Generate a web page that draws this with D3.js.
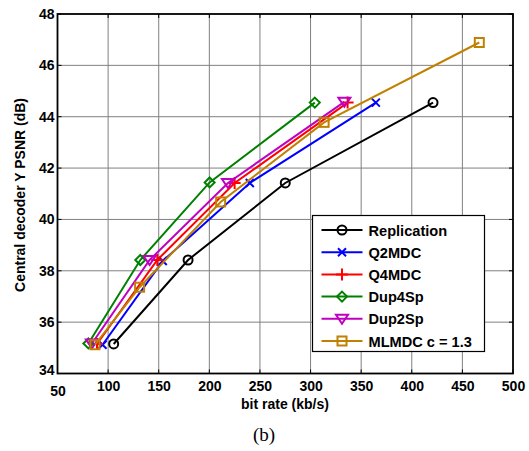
<!DOCTYPE html>
<html><head><meta charset="utf-8">
<script src="https://cdn.jsdelivr.net/npm/d3@7"></script>
<style>body{margin:0;background:#fff}</style>
</head><body>
<svg id="c" width="529" height="451"></svg>
<script>
const seriesNames = ["Replication","Q2MDC","Q4MDC","Dup4Sp","Dup2Sp","MLMDC c = 1.3"];
const replicationX = [105.5, 179, 275, 421];
const replicationY = [35.15, 38.42, 41.42, 44.55];
const q2mdcX = [94.5, 154, 240, 364.5];
const q2mdcY = [35.12, 38.38, 41.42, 44.55];
const q4mdcX = [89, 148.6, 225, 336.6];
const q4mdcY = [35.15, 38.42, 41.42, 44.55];
const dup4spX = [80.5, 131.8, 200.3, 304.2];
const dup4spY = [35.17, 38.42, 41.44, 44.55];
const dup2spX = [84, 141, 218.4, 333.4];
const dup2spY = [35.17, 38.42, 41.42, 44.58];
const mlmdcX = [87, 131.1, 211.2, 313.4, 466.7];
const mlmdcY = [35.12, 37.36, 40.68, 43.78, 46.89];
const xTicks = [50,100,150,200,250,300,350,400,450,500];
const yTicks = [34,36,38,40,42,44,46,48];
const colors = ["#000000","#0000ff","#ff0000","#008000","#c000c0","#c08000"];
const markers = ["circle","x","plus","diamond","tridown","square"];

const seriesX = [replicationX,q2mdcX,q4mdcX,dup4spX,dup2spX,mlmdcX];
const seriesY = [replicationY,q2mdcY,q4mdcY,dup4spY,dup2spY,mlmdcY];

const L=57.5, R=513, T=14, B=373.5;
const x = d3.scaleLinear().domain([50,500]).range([L,R]);
const y = d3.scaleLinear().domain([34,48]).range([B,T]);
const svg = d3.select("#c");
const font = "Arial, 'Liberation Sans', sans-serif";

// grid
const g = svg.append("g");
xTicks.slice(1,-1).forEach(t=>g.append("line").attr("x1",x(t)).attr("x2",x(t)).attr("y1",T).attr("y2",B).attr("stroke","#808080").attr("stroke-width",1));
yTicks.slice(1,-1).forEach(t=>g.append("line").attr("y1",y(t)).attr("y2",y(t)).attr("x1",L).attr("x2",R).attr("stroke","#808080").attr("stroke-width",1));

// axes
const xAxis = d3.axisBottom(x).tickValues(xTicks).tickSize(0).tickPadding(8);
const gx = svg.append("g").attr("transform",`translate(0,${B})`).call(xAxis);
gx.select(".domain").remove();
gx.selectAll("text").attr("font-family",font).attr("font-size",14).attr("font-weight","bold").attr("fill","#000");
const yAxis = d3.axisLeft(y).tickValues(yTicks).tickSize(0).tickPadding(3);
const gy = svg.append("g").attr("transform",`translate(${L},0)`).call(yAxis);
gy.select(".domain").remove();
gy.selectAll("text").attr("font-family",font).attr("font-size",14).attr("font-weight","bold").attr("fill","#000");
gy.selectAll(".tick").filter(d=>d===34).select("text").attr("dy","0.1em");
gx.selectAll(".tick").filter(d=>d===50).select("text").attr("dy","1.0em");

// small inner ticks on all four sides
const tk = 4;
xTicks.forEach(t=>{
  svg.append("line").attr("x1",x(t)).attr("x2",x(t)).attr("y1",B).attr("y2",B-tk).attr("stroke","#000");
  svg.append("line").attr("x1",x(t)).attr("x2",x(t)).attr("y1",T).attr("y2",T+tk).attr("stroke","#000");
});
yTicks.forEach(t=>{
  svg.append("line").attr("y1",y(t)).attr("y2",y(t)).attr("x1",L).attr("x2",L+tk).attr("stroke","#000");
  svg.append("line").attr("y1",y(t)).attr("y2",y(t)).attr("x1",R).attr("x2",R-tk).attr("stroke","#000");
});
svg.append("rect").attr("x",L).attr("y",T).attr("width",R-L).attr("height",B-T).attr("fill","none").attr("stroke","#000").attr("stroke-width",1.8);

function drawMarker(sel, type, cx, cy, col){
  const s = 4;
  if(type==="circle") sel.append("circle").attr("cx",cx).attr("cy",cy).attr("r",4.5).attr("fill","none").attr("stroke",col).attr("stroke-width",2);
  else if(type==="x") sel.append("path").attr("d",`M${cx-s},${cy-s}L${cx+s},${cy+s}M${cx-s},${cy+s}L${cx+s},${cy-s}`).attr("stroke",col).attr("stroke-width",2);
  else if(type==="plus") sel.append("path").attr("d",`M${cx-6},${cy}L${cx+6},${cy}M${cx},${cy-6}L${cx},${cy+6}`).attr("stroke",col).attr("stroke-width",2);
  else if(type==="diamond") sel.append("path").attr("d",`M${cx},${cy-5}L${cx+5},${cy}L${cx},${cy+5}L${cx-5},${cy}Z`).attr("fill","none").attr("stroke",col).attr("stroke-width",2);
  else if(type==="tridown") sel.append("path").attr("d",`M${cx-6},${cy-4}L${cx+6},${cy-4}L${cx},${cy+5}Z`).attr("fill","none").attr("stroke",col).attr("stroke-width",2);
  else if(type==="square") sel.append("rect").attr("x",cx-4.5).attr("y",cy-4.5).attr("width",9).attr("height",9).attr("fill","none").attr("stroke",col).attr("stroke-width",2);
}

const line = d3.line().x(d=>x(d[0])).y(d=>y(d[1]));
seriesNames.forEach((n,i)=>{
  const pts = seriesX[i].map((v,j)=>[v,seriesY[i][j]]);
  const sg = svg.append("g");
  sg.append("path").attr("d",line(pts)).attr("fill","none").attr("stroke",colors[i]).attr("stroke-width",2);
  pts.forEach(p=>drawMarker(sg,markers[i],x(p[0]),y(p[1]),colors[i]));
});

// legend
const lg = svg.append("g");
lg.append("rect").attr("x",312.5).attr("y",215.5).attr("width",172).attr("height",136).attr("fill","#fff").attr("stroke","#000").attr("stroke-width",1.2);
seriesNames.forEach((n,i)=>{
  const ly = 230 + i*22.2;
  lg.append("line").attr("x1",321.5).attr("x2",362.5).attr("y1",ly).attr("y2",ly).attr("stroke",colors[i]).attr("stroke-width",2);
  drawMarker(lg,markers[i],342,ly,colors[i]);
  lg.append("text").attr("x",368.5).attr("y",ly+5.5).text(n).attr("font-family",font).attr("font-size",14.6).attr("font-weight","bold");
});

// titles
svg.append("text").attr("x",285).attr("y",409).attr("text-anchor","middle").text("bit rate (kb/s)").attr("font-family",font).attr("font-size",14).attr("font-weight","bold");
svg.append("text").attr("transform","translate(25,195) rotate(-90)").attr("text-anchor","middle").text("Central decoder Y PSNR (dB)").attr("font-family",font).attr("font-size",14).attr("font-weight","bold");
svg.append("text").attr("x",264).attr("y",441).attr("text-anchor","middle").text("(b)").attr("font-family","'Liberation Serif','Times New Roman',serif").attr("font-size",19);
</script>
</body></html>
